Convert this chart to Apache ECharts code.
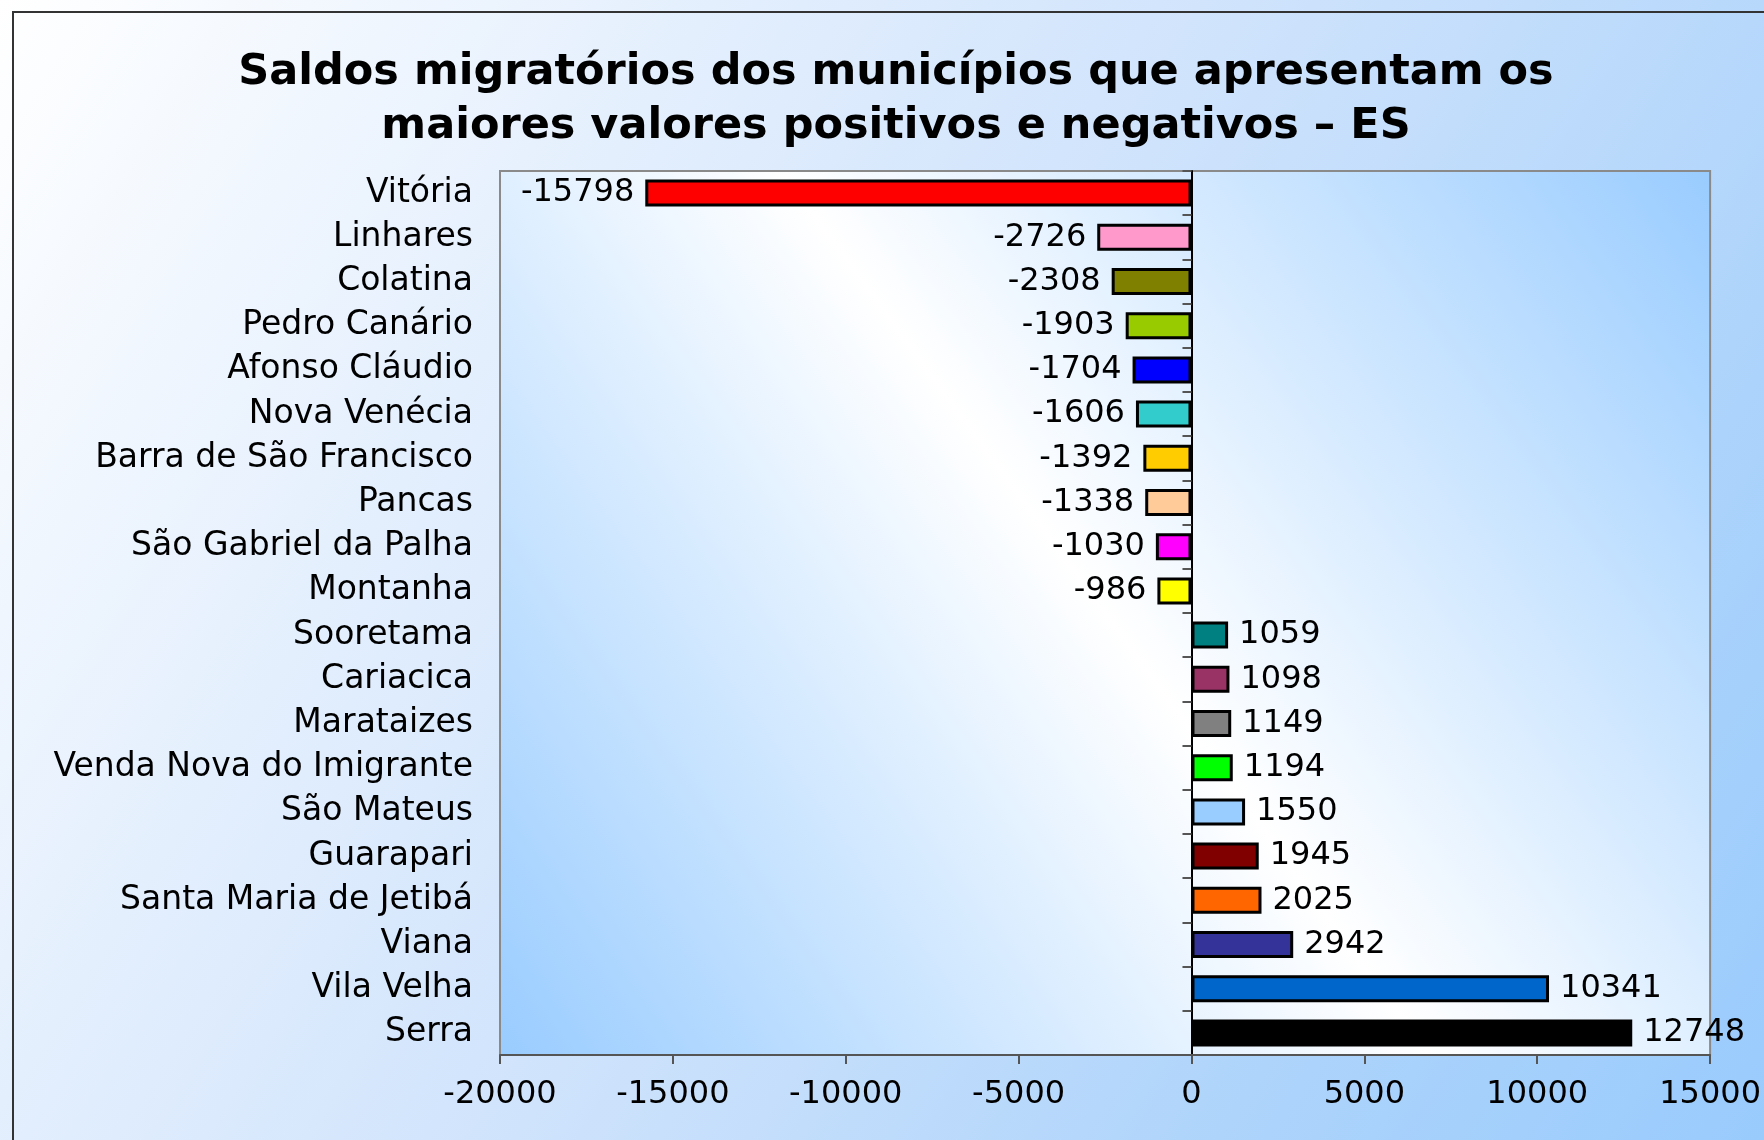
<!DOCTYPE html>
<html>
<head>
<meta charset="utf-8">
<title>Saldos migratórios - ES</title>
<script src="https://cdn.jsdelivr.net/npm/echarts@6/dist/echarts.min.js"></script>
<style>
  html, body { margin: 0; padding: 0; }
  #chart { width: 1764px; height: 1140px; }
</style>
</head>
<body>
<div id="chart"></div>
<script>
  // municipios (de cima para baixo)
  const municipios = ['Vitória', 'Linhares', 'Colatina', 'Pedro Canário', 'Afonso Cláudio', 'Nova Venécia',
    'Barra de São Francisco', 'Pancas', 'São Gabriel da Palha', 'Montanha', 'Sooretama', 'Cariacica',
    'Marataizes', 'Venda Nova do Imigrante', 'São Mateus', 'Guarapari', 'Santa Maria de Jetibá', 'Viana',
    'Vila Velha', 'Serra'];
  const saldos = [-15798, -2726, -2308, -1903, -1704, -1606, -1392, -1338, -1030, -986,
    1059, 1098, 1149, 1194, 1550, 1945, 2025, 2942, 10341, 12748];
  const colorList = ['#ff0000', '#ff99cc', '#808000', '#99cc00', '#0000ff', '#33cccc', '#ffcc00', '#ffcc99',
    '#ff00ff', '#ffff00', '#008080', '#993366', '#808080', '#00ff00', '#99ccff', '#800000', '#ff6600',
    '#333399', '#0066cc', '#000000'];
  const xTicks = { min: -20000, max: 15000, interval: 5000 };
  const titulo = ['Saldos migratórios dos municípios que apresentam os', 'maiores valores positivos e negativos – ES'];

  const fontFamily = '"DejaVu Sans", sans-serif';
  const chart = echarts.init(document.getElementById('chart'));

  let dataList = saldos.map((v, i) => ({
    value: v,
    itemStyle: { color: colorList[i] },
    label: { position: v < 0 ? 'left' : 'right' }
  }));

  chart.setOption({
    animation: false,
    graphic: [
      {
        type: 'rect', z: -10, silent: true,
        shape: { x: 0, y: 0, width: 1764, height: 1140 },
        style: {
          fill: new echarts.graphic.LinearGradient(0, 0, 1, 1, [
            { offset: 0, color: '#ffffff' },
            { offset: 0.5, color: '#cfe3fc' },
            { offset: 0.8, color: '#acd3fb' },
            { offset: 1, color: '#99cbfd' }
          ])
        }
      },
      {
        type: 'polyline', z: 10, silent: true,
        shape: { points: [[13, 1140], [13, 12], [1764, 12]] },
        style: { stroke: '#333333', lineWidth: 2, fill: null }
      },
      {
        type: 'text', z: 10,
        style: {
          x: 896, y: 73, text: titulo[0], textAlign: 'center', textVerticalAlign: 'middle',
          fill: '#000', font: 'bold 43px ' + fontFamily
        }
      },
      {
        type: 'text', z: 10,
        style: {
          x: 896, y: 127, text: titulo[1], textAlign: 'center', textVerticalAlign: 'middle',
          fill: '#000', font: 'bold 43px ' + fontFamily
        }
      }
    ],
    grid: {
      left: 500,
      right: 46,
      top: 171,
      bottom: 85,
      show: true,
      borderColor: '#8a8a8a',
      borderWidth: 2,
      backgroundColor: new echarts.graphic.LinearGradient(0, 1, 1, 0, [
        { offset: 0, color: '#99ccff' },
        { offset: 0.5, color: '#ffffff' },
        { offset: 1, color: '#99ccff' }
      ])
    },
    xAxis: {
      type: 'value',
      min: xTicks.min,
      max: xTicks.max,
      interval: xTicks.interval,
      axisLine: { show: true, lineStyle: { color: '#555', width: 2 } },
      axisTick: { show: true, inside: false, length: 9, lineStyle: { color: '#555', width: 2 } },
      axisLabel: {
        color: '#000', fontFamily: fontFamily, fontSize: 32, margin: 24,
        formatter: function (value) {
          return String(value);
        }
      },
      splitLine: { show: false }
    },
    yAxis: [
      {
        // eixo no zero, so tracinhos
        type: 'category',
        data: municipios,
        inverse: true,
        axisLine: { show: true, onZero: true, lineStyle: { color: '#000', width: 2 } },
        axisTick: { show: true, inside: false, length: 9, lineStyle: { color: '#555', width: 2 } },
        axisLabel: { show: false },
        splitLine: { show: false }
      },
      {
        // nomes dos municipios
        type: 'category',
        data: municipios,
        inverse: true,
        position: 'left',
        axisLine: { show: false, onZero: false },
        axisTick: { show: false },
        axisLabel: { interval: 0, color: '#000', fontFamily: fontFamily, fontSize: 33, margin: 27 },
        splitLine: { show: false }
      }
    ],
    series: [{
      type: 'bar',
      yAxisIndex: 0,
      data: dataList,
      barWidth: 27,
      itemStyle: { borderColor: '#000', borderWidth: 3 },
      label: {
        show: true,
        distance: 11,
        color: '#000',
        fontFamily: fontFamily,
        fontSize: 32
      }
    }]
  });
</script>
</body>
</html>
